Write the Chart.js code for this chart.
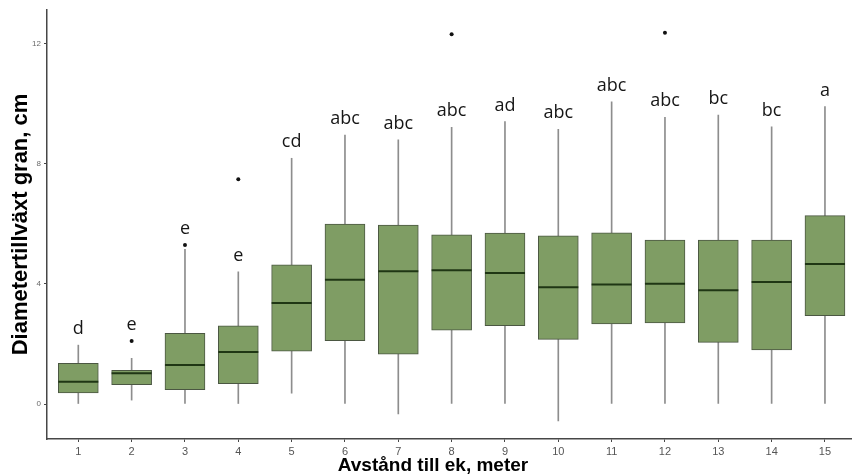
<!DOCTYPE html>
<html>
<head>
<meta charset="utf-8">
<script src="https://cdn.jsdelivr.net/npm/chart.js@4/dist/chart.umd.min.js"></script>
<style>
  html, body { margin: 0; padding: 0; background: #ffffff; }
  canvas { display: block; }
</style>
</head>
<body>
<canvas id="chart" width="852" height="475"></canvas>
<script>
// Diameter growth of spruce by distance to the nearest oak (box plot per distance class)
const distances   = [1, 2, 3, 4, 5, 6, 7, 8, 9, 10, 11, 12, 13, 14, 15];
const whiskerLow  = [0.00, 0.13, 0.00, 0.00, 0.36, 0.00, -0.33, 0.00, 0.00, -0.56, 0.00, 0.00, 0.00, 0.00, 0.00];
const q1          = [0.37, 0.64, 0.48, 0.68, 1.76, 2.11, 1.66, 2.46, 2.61, 2.15, 2.67, 2.70, 2.05, 1.80, 2.94];
const medians     = [0.74, 1.02, 1.30, 1.73, 3.36, 4.14, 4.42, 4.45, 4.36, 3.89, 3.98, 4.00, 3.79, 4.06, 4.66];
const q3          = [1.35, 1.12, 2.35, 2.60, 4.63, 5.99, 5.96, 5.63, 5.69, 5.60, 5.70, 5.46, 5.46, 5.46, 6.27];
const whiskerHigh = [1.96, 1.52, 5.15, 4.40, 8.18, 8.95, 8.79, 9.21, 9.40, 9.14, 10.06, 9.54, 9.62, 9.23, 9.90];

// Single observations outside the whiskers
const outlierDistance = [2, 3, 4, 8, 12];
const outlierValue    = [2.10, 5.29, 7.48, 12.31, 12.36];

// Significance groups and the value each letter sits above
const groupLetters = ['d', 'e', 'e', 'e', 'cd', 'abc', 'abc', 'abc', 'ad', 'abc', 'abc', 'abc', 'bc', 'bc', 'a'];
const letterAnchor = [1.96, 2.10, 5.29, 4.40, 8.18, 8.95, 8.79, 9.21, 9.40, 9.14, 10.06, 9.54, 9.62, 9.23, 9.90];

const yTickValues = [0, 4, 8, 12];
const yTitle = 'Diametertillväxt gran, cm';
const xTitle = 'Avstånd till ek, meter';

const BOX_FILL = '#7f9d64';
const BOX_EDGE = '#4b5742';
const MEDIAN_COLOR = '#1f3614';
const WHISKER_COLOR = '#8d8d8d';
const AXIS_COLOR = '#474747';

const groupLetterPlugin = {
  id: 'groupLetters',
  afterDatasetsDraw(chart) {
    const { ctx, scales: { x, y } } = chart;
    ctx.save();
    ctx.font = '18px "Open Sans"';
    ctx.fillStyle = '#161616';
    ctx.textAlign = 'center';
    ctx.textBaseline = 'alphabetic';
    distances.forEach((d, i) => {
      ctx.fillText(groupLetters[i], x.getPixelForValue(d), y.getPixelForValue(letterAnchor[i]) - 11);
    });
    ctx.restore();
  }
};

const xTitlePlugin = {
  id: 'xTitle',
  afterDraw(chart) {
    const { ctx } = chart;
    ctx.save();
    ctx.font = 'bold 19px "Liberation Sans"';
    ctx.fillStyle = '#000000';
    ctx.textAlign = 'center';
    ctx.textBaseline = 'alphabetic';
    ctx.fillText(xTitle, 433, 471);
    ctx.restore();
  }
};

const floating = (lo, hi) => distances.map((d, i) => ({ x: d, y: [lo[i], hi[i]] }));

new Chart(document.getElementById('chart'), {
  type: 'bar',
  data: {
    datasets: [
      {
        label: 'Whiskers',
        data: floating(whiskerLow, whiskerHigh),
        backgroundColor: WHISKER_COLOR,
        barThickness: 1,
        grouped: false,
        order: 3
      },
      {
        label: 'Kvartiler',
        data: floating(q1, q3),
        backgroundColor: BOX_FILL,
        borderColor: BOX_EDGE,
        borderWidth: 1,
        borderSkipped: false,
        barThickness: 40,
        grouped: false,
        order: 2
      },
      {
        type: 'line',
        label: 'Median',
        data: distances.map((d, i) => ({ x: d, y: medians[i] })),
        showLine: false,
        pointStyle: 'line',
        pointRadius: 20,
        pointHoverRadius: 20,
        pointBorderWidth: 2,
        pointBorderColor: MEDIAN_COLOR,
        pointBackgroundColor: MEDIAN_COLOR,
        order: 1
      },
      {
        type: 'line',
        label: 'Avvikande',
        data: outlierDistance.map((d, i) => ({ x: d, y: outlierValue[i] })),
        showLine: false,
        pointStyle: 'circle',
        pointRadius: 2,
        pointBorderWidth: 0,
        pointBackgroundColor: '#111111',
        order: 0
      }
    ]
  },
  options: {
    responsive: false,
    animation: false,
    events: [],
    layout: { autoPadding: false, padding: { top: 10, right: 0, bottom: 0, left: 0 } },
    plugins: {
      legend: { display: false },
      tooltip: { enabled: false }
    },
    scales: {
      x: {
        type: 'linear',
        offset: false,
        min: 0.413,
        max: 15.507,
        afterBuildTicks: (scale) => { scale.ticks = distances.map(v => ({ value: v })); },
        afterFit: (scale) => { scale.height = 36; },
        border: { display: true, color: AXIS_COLOR, width: 1.5 },
        grid: { display: true, offset: false, drawOnChartArea: false, drawTicks: true, tickLength: 3, color: AXIS_COLOR },
        ticks: {
          autoSkip: false,
          maxRotation: 0,
          padding: 3,
          color: '#555555',
          font: { family: 'Liberation Sans', size: 11 },
          callback: (v) => String(v)
        }
      },
      y: {
        type: 'linear',
        min: -1.165,
        max: 13.116,
        afterBuildTicks: (scale) => { scale.ticks = yTickValues.map(v => ({ value: v })); },
        afterFit: (scale) => { scale.width = 47; },
        border: { display: true, color: AXIS_COLOR, width: 1.5 },
        grid: { display: true, drawOnChartArea: false, drawTicks: true, tickLength: 3, color: AXIS_COLOR },
        ticks: {
          padding: 3,
          color: '#6a6a6a',
          font: { family: 'Liberation Sans', size: 8 },
          callback: (v) => String(v)
        },
        title: {
          display: true,
          text: yTitle,
          color: '#000000',
          font: { family: 'Liberation Sans', size: 22, weight: 'bold' },
          padding: { top: 8, bottom: 0 }
        }
      }
    }
  },
  plugins: [groupLetterPlugin, xTitlePlugin]
});
</script>
</body>
</html>
